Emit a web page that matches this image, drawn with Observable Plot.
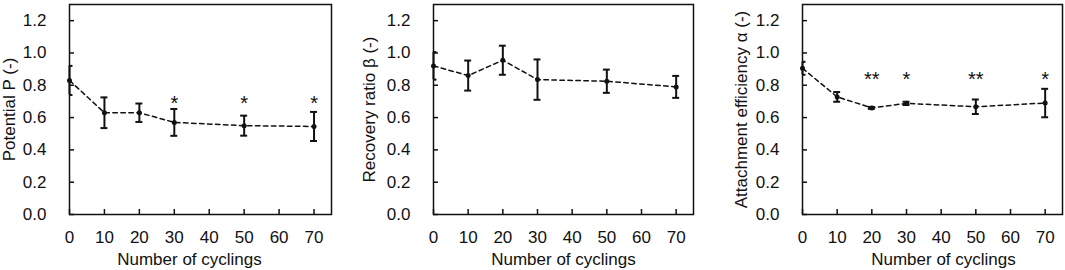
<!DOCTYPE html>
<html><head><meta charset="utf-8">
<script src="https://cdn.jsdelivr.net/npm/d3@7"></script>
<script src="https://cdn.jsdelivr.net/npm/@observablehq/plot@0.6"></script>
<style>
html,body{margin:0;padding:0;background:#fff;}
#wrap{position:relative;width:1065px;height:270px;overflow:hidden;background:#fff;}
#wrap svg{position:absolute;top:0;}
</style></head><body><div id="wrap"></div>
<script>
// ---- data ----
const cycles = [0, 10, 20, 30, 50, 70];

const potential    = [0.83, 0.63, 0.63, 0.57, 0.55, 0.545];
const potentialErr = [0.09, 0.095, 0.057, 0.083, 0.062, 0.09];

const recovery    = [0.92, 0.86, 0.955, 0.835, 0.825, 0.79];
const recoveryErr = [0.085, 0.093, 0.09, 0.125, 0.072, 0.068];

const attachment    = [0.905, 0.728, 0.66, 0.688, 0.667, 0.69];
const attachmentErr = [0.04, 0.03, 0.006, 0.01, 0.045, 0.088];

const potentialStarX = [30, 50, 70];
const potentialStarText = ["*", "*", "*"];
const potentialStarY = [0.715, 0.715, 0.715];

const attachmentStarX = [20, 30, 50, 70];
const attachmentStarText = ["**", "*", "**", "*"];
const attachmentStarY = [0.867, 0.867, 0.867, 0.867];

const xTicks = [0, 10, 20, 30, 40, 50, 60, 70];
const yTicks = [0, 0.2, 0.4, 0.6, 0.8, 1.0, 1.2];
const xLabel = "Number of cyclings";
const potentialLabel = ["Potential ", "P", " (-)"];
const recoveryLabel = ["Recovery ratio ", "β", " (-)"];
const attachmentLabel = ["Attachment efficiency ", "α", " (-)"];

// ---- drawing ----
const font = "'Liberation Sans', Arial, Helvetica, sans-serif";
const ink = "#111";
const wrap = document.getElementById("wrap");

function panel({values, errors, starX, starText, starY, yLabel, left, marginLeft, marginRight, yLabelDx, xLabelDx}) {
  const rows = cycles.map((c, i) => ({x: c, y: values[i], lo: values[i] - errors[i], hi: values[i] + errors[i]}));
  const stars = starX.map((x, i) => ({x, y: starY[i], t: starText[i]}));
  const svg = Plot.plot({
    width: 355, height: 270,
    marginTop: 4, marginBottom: 56, marginLeft, marginRight,
    style: {fontFamily: font, fontSize: "17px", color: ink, background: "transparent", overflow: "visible"},
    x: {domain: [0, 75]},
    y: {domain: [0, 1.3]},
    marks: [
      Plot.axisX({ticks: xTicks, tickSize: -5, tickPadding: 21, tickFormat: d => String(d), label: null, strokeWidth: 1.5, fontSize: 17}),
      Plot.axisY({ticks: yTicks, tickSize: -5, tickPadding: 28, tickFormat: d => d.toFixed(1), label: null, strokeWidth: 1.5, fontSize: 17}),
      Plot.line(rows, {x: "x", y: "y", stroke: ink, strokeWidth: 1.5, strokeDasharray: "4.5,3.5"}),
      Plot.ruleX(rows, {x: "x", y1: "lo", y2: "hi", stroke: ink, strokeWidth: 2}),
      Plot.ruleY(rows, {y: "lo", x1: d => d.x - 1, x2: d => d.x + 1, stroke: ink, strokeWidth: 2, clip: true}),
      Plot.ruleY(rows, {y: "hi", x1: d => d.x - 1, x2: d => d.x + 1, stroke: ink, strokeWidth: 2, clip: true}),
      Plot.dot(rows, {x: "x", y: "y", r: 2.5, fill: ink}),
      Plot.text(stars, {x: "x", y: "y", text: "t", fontSize: 20, dy: 4.8, fill: ink, lineAnchor: "middle", textAnchor: "middle"}),
      Plot.text([xLabel], {text: d => d, frameAnchor: "bottom", textAnchor: "middle", lineAnchor: "middle", dy: 45, dx: xLabelDx, fontSize: 17, fill: ink}),
      Plot.text([yLabel.join("")], {text: d => d, frameAnchor: "left", textAnchor: "middle", lineAnchor: "middle", rotate: -90, dx: yLabelDx, fontSize: 17, fill: ink, ariaLabel: "ylabel"}),
      Plot.frame({stroke: ink, strokeWidth: 1.5})
    ]
  });
  // italic variable symbol inside the y label
  const t = svg.querySelector('g[aria-label="ylabel"] text');
  if (t) {
    t.textContent = "";
    yLabel.forEach((part, i) => {
      const ts = document.createElementNS("http://www.w3.org/2000/svg", "tspan");
      ts.textContent = part;
      if (i === 1) ts.setAttribute("font-style", "italic");
      t.appendChild(ts);
    });
  }
  svg.style.left = left + "px";
  wrap.appendChild(svg);
}

panel({values: potential, errors: potentialErr, starX: potentialStarX, starText: potentialStarText, starY: potentialStarY,
  yLabel: potentialLabel, left: 0, marginLeft: 69, marginRight: 24, yLabelDx: -60, xLabelDx: -11});
panel({values: recovery, errors: recoveryErr, starX: [], starText: [], starY: [],
  yLabel: recoveryLabel, left: 355, marginLeft: 78, marginRight: 17, yLabelDx: -64, xLabelDx: 0});
panel({values: attachment, errors: attachmentErr, starX: attachmentStarX, starText: attachmentStarText, starY: attachmentStarY,
  yLabel: attachmentLabel, left: 710, marginLeft: 92, marginRight: 3, yLabelDx: -61, xLabelDx: 11});
</script>
</body></html>
